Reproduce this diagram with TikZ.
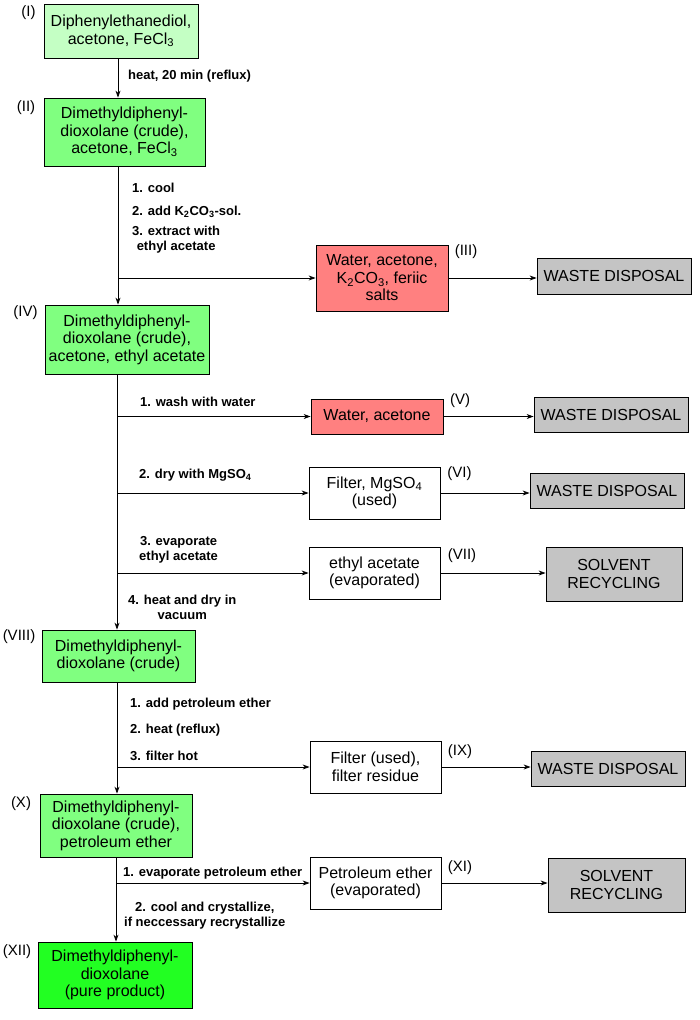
\documentclass[tikz,border=0pt]{standalone}
\usepackage{fontspec}
\setmainfont{Liberation Sans}
\usepackage{xcolor}
\usetikzlibrary{arrows.meta, positioning}

\definecolor{startgreen}{HTML}{C4FFC4}
\definecolor{crudegreen}{HTML}{80FF80}
\definecolor{puregreen}{HTML}{22FF22}
\definecolor{wastered}{HTML}{FF8080}
\definecolor{sinkgray}{HTML}{C4C4C4}

\begin{document}
\begin{tikzpicture}[x=1pt, y=-1pt,
    box/.style={draw, line width=0.8pt, align=center, inner sep=0pt,
        font=\fontsize{16}{17.5}\selectfont},
    cond/.style={anchor=west, align=center, inner sep=0pt,
        font=\bfseries\fontsize{13}{15}\selectfont},
    tag/.style={inner sep=0pt, font=\fontsize{15}{17}\selectfont},
    flow/.style={-{Stealth[length=7pt,width=5pt]}, line width=0.8pt}]
    \useasboundingbox (0,0) rectangle (700,1020);

    % Main column
    \node[box, fill=startgreen, minimum width=154pt, minimum height=54pt] (s1) at (121,31) {Diphenylethanediol,\\acetone, FeCl\textsubscript{3}};
    \node[box, fill=crudegreen, minimum width=161pt, minimum height=68pt] (s2) at (124.5,132) {Dimethyldiphenyl-\\dioxolane (crude),\\acetone, FeCl\textsubscript{3}};
    \node[box, fill=crudegreen, minimum width=164pt, minimum height=69pt] (s4) at (127,339.5) {Dimethyldiphenyl-\\dioxolane (crude),\\acetone, ethyl acetate};
    \node[box, fill=crudegreen, minimum width=153pt, minimum height=52pt] (s8) at (118.5,656) {Dimethyldiphenyl-\\dioxolane (crude)};
    \node[box, fill=crudegreen, minimum width=152pt, minimum height=63pt] (s10) at (116,825.5) {Dimethyldiphenyl-\\dioxolane (crude),\\petroleum ether};
    \node[box, fill=puregreen, minimum width=154pt, minimum height=66pt] (s12) at (115,975) {Dimethyldiphenyl-\\dioxolane\\(pure product)};

    % Side streams
    \node[box, fill=wastered, minimum width=132pt, minimum height=66pt] (s3) at (382,278) {Water, acetone,\\K\textsubscript{2}CO\textsubscript{3}, feriic\\salts};
    \node[box, fill=wastered, minimum width=132pt, minimum height=35pt] (s5) at (377,416.5) {Water, acetone};
    \node[box, minimum width=131pt, minimum height=52pt] (s6) at (374.5,493) {Filter, MgSO\textsubscript{4}\\(used)};
    \node[box, minimum width=131pt, minimum height=52pt] (s7) at (374.5,573) {ethyl acetate\\(evaporated)};
    \node[box, minimum width=131pt, minimum height=52pt] (s9) at (375.5,767) {Filter (used),\\filter residue};
    \node[box, minimum width=131pt, minimum height=52pt] (s11) at (375.5,883) {Petroleum ether\\(evaporated)};

    % Disposal and recycling
    \node[box, fill=sinkgray, minimum width=154pt, minimum height=36pt] (w3) at (614,276) {WASTE DISPOSAL};
    \node[box, fill=sinkgray, minimum width=154pt, minimum height=35pt] (w5) at (611,414.5) {WASTE DISPOSAL};
    \node[box, fill=sinkgray, minimum width=154pt, minimum height=35pt] (w6) at (607,490.5) {WASTE DISPOSAL};
    \node[box, fill=sinkgray, minimum width=136pt, minimum height=54pt] (r7) at (614,574) {SOLVENT\\RECYCLING};
    \node[box, fill=sinkgray, minimum width=154pt, minimum height=35pt] (w9) at (608,768.5) {WASTE DISPOSAL};
    \node[box, fill=sinkgray, minimum width=137pt, minimum height=54pt] (r11) at (616.5,885) {SOLVENT\\RECYCLING};

    % Numbering
    \node[tag] (n1) at (28.5,13) {(I)};
    \node[tag] (n2) at (26,108) {(II)};
    \node[tag] (n3) at (466,252) {(III)};
    \node[tag] (n4) at (25.5,313) {(IV)};
    \node[tag] (n5) at (460,401) {(V)};
    \node[tag] (n6) at (459.5,474) {(VI)};
    \node[tag] (n7) at (462,556) {(VII)};
    \node[tag] (n8) at (19,637) {(VIII)};
    \node[tag] (n9) at (460,752) {(IX)};
    \node[tag] (n10) at (21,804) {(X)};
    \node[tag] (n11) at (460,868) {(XI)};
    \node[tag] (n12) at (17,952) {(XII)};

    % Trunk lines
    \coordinate (t1) at (118,0);
    \coordinate (t2) at (118,0);
    \coordinate (t4) at (117,0);
    \coordinate (t8) at (117,0);
    \coordinate (t10) at (116,0);
    \draw[flow] (t1 |- s1.south) -- (t1 |- s2.north);
    \draw[flow] (t2 |- s2.south) -- (t2 |- s4.north);
    \draw[flow] (t4 |- s4.south) -- (t4 |- s8.north);
    \draw[flow] (t8 |- s8.south) -- (t8 |- s10.north);
    \draw[flow] (t10 |- s10.south) -- (t10 |- s12.north);

    % Branches off the trunk
    \draw[flow] (t2 |- s3.west) -- (s3.west);
    \foreach \s in {s5, s6, s7} {
        \draw[flow] (t4 |- \s.west) -- (\s.west);
    }
    \draw[flow] (t8 |- s9.west) -- (s9.west);
    \draw[flow] (t10 |- s11.west) -- (s11.west);

    % To disposal / recycling
    \foreach \a/\b in {s3/w3, s5/w5, s6/w6, s7/r7, s9/w9, s11/r11} {
        \draw[flow] (\a.east) -- (\a.east -| \b.west);
    }

    % Conditions
    \node[cond] (c1) at (128,76) {heat, 20 min (reflux)};
    \node[cond] (c2) at (132,188) {1. cool};
    \node[cond] (c3) at (132,212) {2. add K\textsubscript{2}CO\textsubscript{3}-sol.};
    \node[cond] (c4) at (132,239.5) {3. extract with\\ethyl acetate};
    \node[cond] (c5) at (140,402) {1. wash with water};
    \node[cond] (c6) at (139,475) {2. dry with MgSO\textsubscript{4}};
    \node[cond] (c7) at (139,549.5) {3. evaporate\\ethyl acetate};
    \node[cond] (c8) at (128,607.5) {4. heat and dry in\\vacuum};
    \node[cond] (c9) at (130,704) {1. add petroleum ether};
    \node[cond] (c10) at (130,730) {2. heat (reflux)};
    \node[cond] (c11) at (130,756) {3. filter hot};
    \node[cond] (c12) at (123,873) {1. evaporate petroleum ether};
    \node[cond] (c13) at (124,916) {2. cool and crystallize,\\if neccessary recrystallize};
\end{tikzpicture}
\end{document}
